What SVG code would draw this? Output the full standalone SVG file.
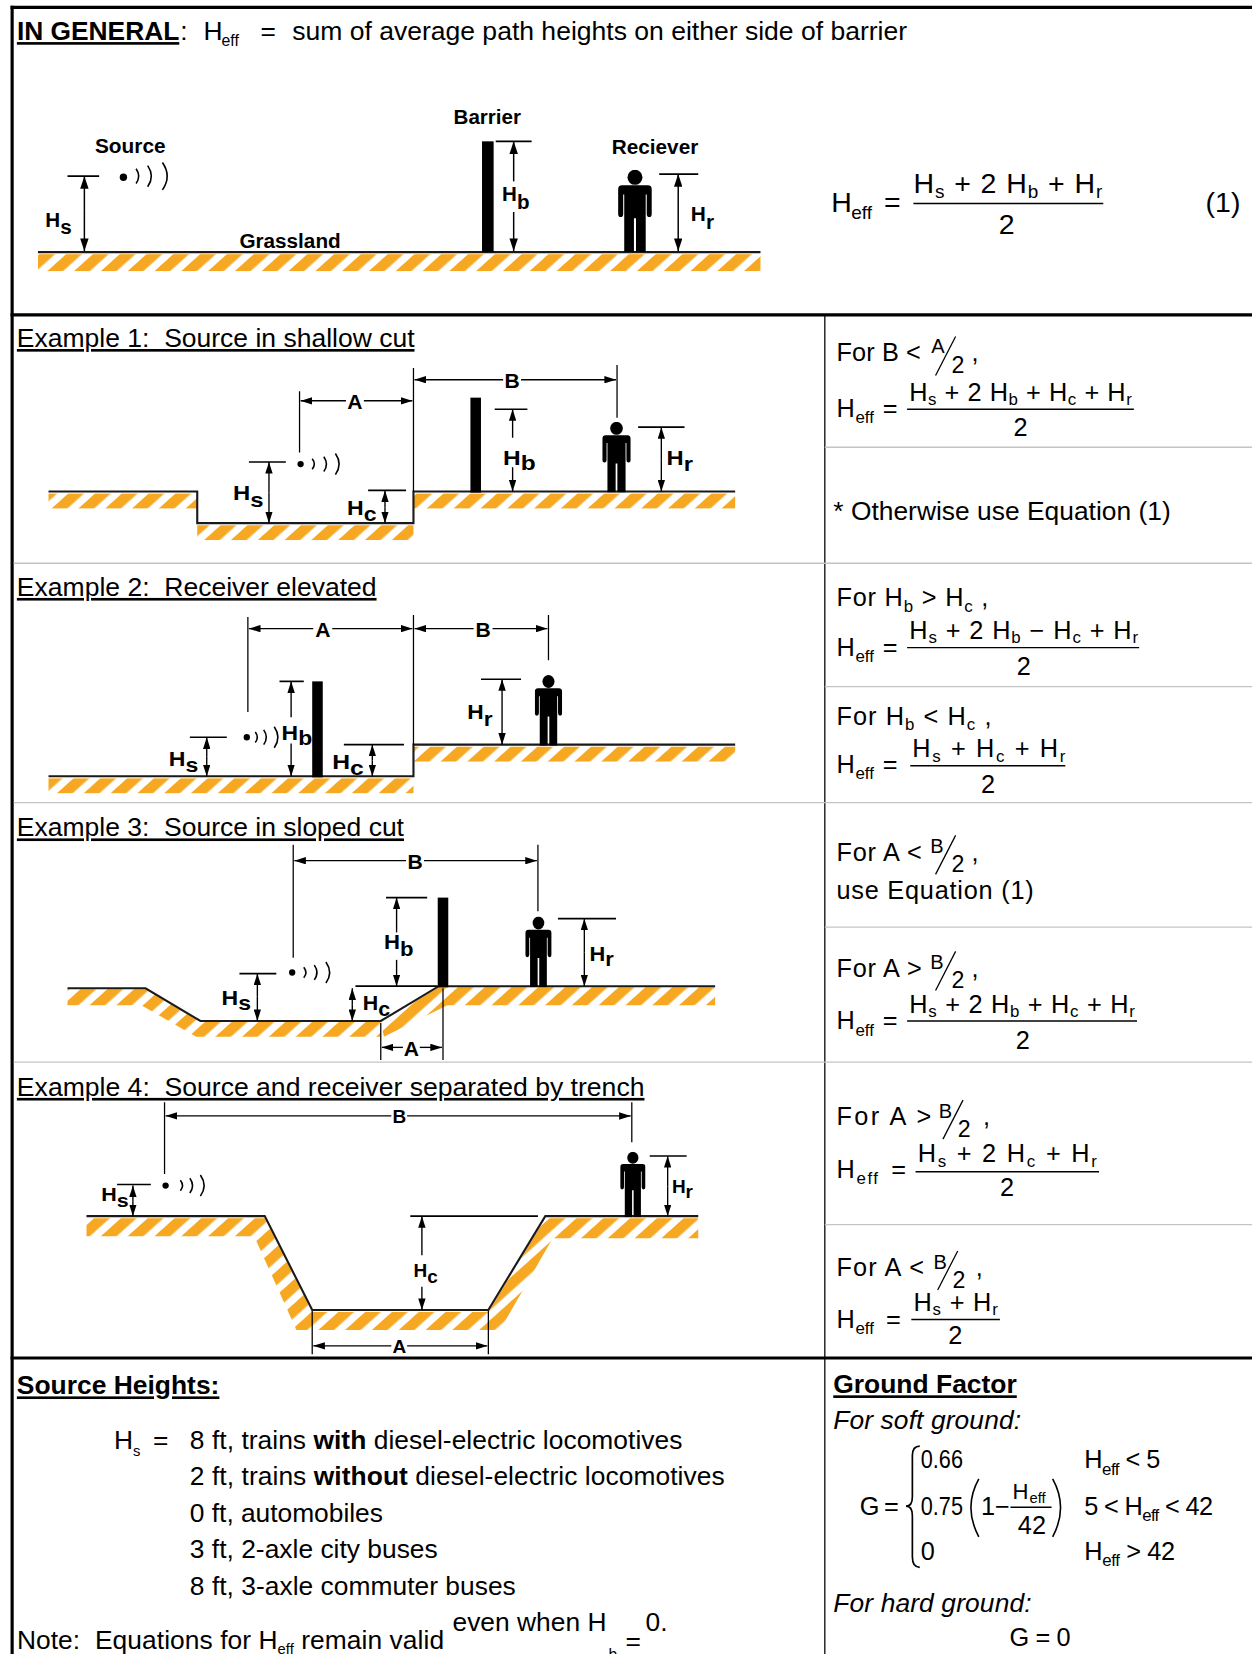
<svg xmlns="http://www.w3.org/2000/svg" width="1252" height="1654" viewBox="0 0 1252 1654">
<defs>
<style>
text{font-family:"Liberation Sans",Arial,Helvetica,sans-serif;fill:#000}
.b{font-weight:bold}
.u{text-decoration:underline}
.i{font-style:italic}
.t25{font-size:25px}
.eq{font-size:24px}
.s{font-size:16px}
.lab{font-weight:bold;font-size:20px}
.lab4{font-weight:bold;font-size:18px}
.gl{stroke:#1a1a1a;stroke-width:2;fill:none}
.hatch{fill:url(#hatch)}
.ext{stroke:#000;stroke-width:1.2;fill:none}
.a{stroke:#000;stroke-width:1.3;fill:none;marker-end:url(#ah)}
.aL{stroke:#000;stroke-width:1.4;fill:none;marker-end:url(#ahL)}
.tick{stroke:#000;stroke-width:1.6}
.thick{stroke:#000;stroke-width:3}
.thin{stroke:#000;stroke-width:1.2}
.gray{stroke:#c4c4c4;stroke-width:1.3}
.wave{stroke:#000;stroke-width:1.5;fill:none}
.bar{stroke:#000;stroke-width:1.4}
</style>
<pattern id="hatch" patternUnits="userSpaceOnUse" width="17" height="17" patternTransform="rotate(48)">
<rect width="17" height="17" fill="#fff"/>
<rect width="10" height="17" fill="#F7A823"/>
</pattern>
<marker id="ah" viewBox="0 0 11 7" refX="11" refY="3.5" markerWidth="11" markerHeight="7" markerUnits="userSpaceOnUse" orient="auto"><path d="M0,0 L11,3.5 L0,7 z" fill="#000"/></marker>
<marker id="ahL" viewBox="0 0 12 8" refX="12" refY="4" markerWidth="12" markerHeight="8" markerUnits="userSpaceOnUse" orient="auto"><path d="M0,0 L12,4 L0,8 z" fill="#000"/></marker>
<symbol id="person" viewBox="0 0 33 80" preserveAspectRatio="none">
<circle cx="16.5" cy="7.3" r="7.3"/>
<path d="M4,15 H29 Q33,15 33,19 V43 Q33,46 30.5,46 Q28,46 28,43 V24 H27 V80 H17.5 V47 H15.5 V80 H6 V24 H5 V43 Q5,46 2.5,46 Q0,46 0,43 V19 Q0,15 4,15 Z"/>
</symbol>
</defs>
<rect width="1252" height="1654" fill="#fff"/>
<g transform="scale(1.05476)">

<!-- frame and dividers -->
<g id="frame">
<line class="thick" x1="11.5" y1="5.5" x2="11.5" y2="1570"/>
<line class="thick" x1="10" y1="7" x2="1190" y2="7"/>
<line class="thick" x1="10" y1="298.5" x2="1190" y2="298.5"/>
<line class="thick" x1="10" y1="1287.5" x2="1190" y2="1287.5"/>
<line class="thin" x1="782" y1="298.5" x2="782" y2="1570"/>
<line class="gray" x1="13" y1="534" x2="1190" y2="534"/>
<line class="gray" x1="13" y1="761" x2="1190" y2="761"/>
<line class="gray" x1="13" y1="1007" x2="1190" y2="1007"/>
<line class="gray" x1="782" y1="424" x2="1190" y2="424"/>
<line class="gray" x1="782" y1="651" x2="1190" y2="651"/>
<line class="gray" x1="782" y1="879" x2="1190" y2="879"/>
<line class="gray" x1="782" y1="1161" x2="1190" y2="1161"/>
</g>

<!-- ============ GENERAL ============ -->
<g id="general-title">
<text class="b u t25" x="16" y="38" textLength="154" lengthAdjust="spacingAndGlyphs">IN GENERAL</text>
<text class="t25" x="171" y="38">:</text>
<text class="t25" x="193" y="38">H</text>
<text x="210" y="44" font-size="15">eff</text>
<text class="t25" x="247" y="38">=</text>
<text class="t25" x="277" y="38" textLength="583" lengthAdjust="spacingAndGlyphs">sum of average path heights on either side of barrier</text>
</g>

<g id="general-ground">
<rect class="hatch" x="36" y="241" width="685" height="16"/>
<path class="gl" d="M36,239 H721"/>
<text class="b" x="227" y="235" font-size="19" textLength="96" lengthAdjust="spacingAndGlyphs">Grassland</text>
</g>
<g id="general-source">
<text class="b" x="90" y="145" font-size="19" textLength="67" lengthAdjust="spacingAndGlyphs">Source</text>
<circle cx="117" cy="168" r="3.5"/>
<path class="wave" d="M129,160 Q134,167 129,174 M140,157 Q147,167 140,177 M154,154 Q163,167 154,180"/>
<line class="tick" x1="64" y1="167" x2="94" y2="167"/>
<path class="aL" d="M80,200 V167"/><path class="aL" d="M80,200 V238"/>
<text class="b" x="43" y="215" font-size="19" textLength="25" lengthAdjust="spacingAndGlyphs">H<tspan dy="7">s</tspan></text>
</g>
<g id="general-barrier">
<text class="b" x="430" y="118" font-size="19" textLength="64" lengthAdjust="spacingAndGlyphs">Barrier</text>
<rect x="457" y="134" width="11" height="105"/>
<line class="tick" x1="470" y1="134" x2="504" y2="134"/>
<path class="aL" d="M487,172 V134"/><path class="aL" d="M487,201 V238"/>
<text class="b" x="476" y="191" font-size="19" textLength="26" lengthAdjust="spacingAndGlyphs">H<tspan dy="7">b</tspan></text>
</g>
<g id="general-receiver">
<text class="b" x="580" y="146" font-size="19" textLength="82" lengthAdjust="spacingAndGlyphs">Reciever</text>
<use href="#person" x="586" y="161" width="32" height="78"/>
<line class="tick" x1="625" y1="165" x2="662" y2="165"/>
<path class="aL" d="M643,200 V165"/><path class="aL" d="M643,200 V238"/>
<text class="b" x="655" y="210" font-size="19" textLength="22" lengthAdjust="spacingAndGlyphs">H<tspan dy="7">r</tspan></text>
</g>
<g id="eq1">
<text x="788" y="201" font-size="27">H</text>
<text x="807" y="208" font-size="18">eff</text>
<text x="838" y="201" font-size="27">=</text>
<text x="866" y="183" font-size="27" textLength="179" lengthAdjust="spacing">H<tspan font-size="18" dy="5">s</tspan><tspan dy="-5"> + 2 H</tspan><tspan font-size="18" dy="5">b</tspan><tspan dy="-5"> + H</tspan><tspan font-size="18" dy="5">r</tspan></text>
<line class="bar" x1="866" y1="193" x2="1046" y2="193"/>
<text x="947" y="222" font-size="27">2</text>
<text x="1143" y="201" font-size="27">(1)</text>
</g>

<!-- ============ EXAMPLE 1 ============ -->
<g id="ex1-title"><text class="u t25" x="16" y="329" textLength="377" lengthAdjust="spacingAndGlyphs">Example 1:&#160; Source in shallow cut</text></g>
<g id="ex1-ground">
<rect class="hatch" x="46" y="468" width="141" height="14"/>
<rect class="hatch" x="187" y="498" width="205" height="14"/>
<rect class="hatch" x="392" y="468" width="305" height="14"/>
<path class="gl" d="M46,466 H187 V496 H392 V466 H697"/>
</g>
<g id="ex1-source">
<circle cx="285" cy="440" r="3"/>
<path class="wave" d="M296,435 Q300,440 296,445 M307,433 Q312,440 307,447 M318,430 Q325,440 318,450"/>
<line class="tick" x1="236" y1="438" x2="271" y2="438"/>
<path class="a" d="M255,467 V438"/><path class="a" d="M255,467 V496"/>
<text class="lab" x="221" y="474" textLength="29" lengthAdjust="spacingAndGlyphs">H<tspan dy="7">s</tspan></text>
<line class="tick" x1="349" y1="465" x2="385" y2="465"/>
<path class="a" d="M365,481 V465"/><path class="a" d="M365,481 V496"/>
<text class="lab" x="329" y="488" textLength="28" lengthAdjust="spacingAndGlyphs">H<tspan dy="6">c</tspan></text>
</g>
<g id="ex1-barrier">
<rect x="446" y="377" width="10" height="90"/>
<line class="tick" x1="469" y1="388" x2="500" y2="388"/>
<path class="a" d="M486,415 V388"/><path class="a" d="M486,443 V466"/>
<text class="lab" x="477" y="441" textLength="31" lengthAdjust="spacingAndGlyphs">H<tspan dy="5">b</tspan></text>
</g>
<g id="ex1-receiver">
<use href="#person" x="571" y="400" width="27" height="67"/>
<line class="tick" x1="605" y1="405" x2="649" y2="405"/>
<path class="a" d="M627,436 V405"/><path class="a" d="M627,436 V466"/>
<text class="lab" x="632" y="441" textLength="25" lengthAdjust="spacingAndGlyphs">H<tspan dy="6">r</tspan></text>
</g>
<g id="ex1-dims">
<path class="ext" d="M392,349 V466 M284,371 V429 M585,346 V396"/>
<path class="a" d="M328,380 H285"/><path class="a" d="M345,380 H391"/>
<text class="lab" x="336.5" y="388" text-anchor="middle" font-size="21">A</text>
<path class="a" d="M477,360 H393"/><path class="a" d="M494,360 H584"/>
<text class="lab" x="485.5" y="368" text-anchor="middle" font-size="21">B</text>
</g>
<g id="ex1-eq">
<text class="eq" x="793" y="342" textLength="80" lengthAdjust="spacing">For B &lt;</text>
<text x="883" y="335" font-size="19">A</text>
<line class="thin" x1="887" y1="356" x2="906" y2="319"/>
<text x="902" y="354" font-size="22">2</text>
<text class="eq" x="921" y="342">,</text>
<text class="eq" x="793" y="395">H</text>
<text class="s" x="811" y="401">eff</text>
<text class="eq" x="837" y="395">=</text>
<text class="eq" x="862" y="380" textLength="211" lengthAdjust="spacing">H<tspan class="s" dy="4">s</tspan><tspan dy="-4"> + 2 H</tspan><tspan class="s" dy="4">b</tspan><tspan dy="-4"> + H</tspan><tspan class="s" dy="4">c</tspan><tspan dy="-4"> + H</tspan><tspan class="s" dy="4">r</tspan></text>
<line class="bar" x1="860" y1="388" x2="1075" y2="388"/>
<text class="eq" x="961" y="413">2</text>
<text class="t25" x="790" y="493" textLength="320" lengthAdjust="spacing">* Otherwise use Equation (1)</text>
</g>

<!-- ============ EXAMPLE 2 ============ -->
<g id="ex2-title"><text class="u t25" x="16" y="565" textLength="341" lengthAdjust="spacingAndGlyphs">Example 2:&#160; Receiver elevated</text></g>
<g id="ex2-ground">
<rect class="hatch" x="46" y="738" width="346" height="14"/>
<rect class="hatch" x="392" y="708" width="305" height="14"/>
<path class="gl" d="M46,736 H392 V706 H697"/>
</g>
<g id="ex2-source">
<circle cx="234" cy="699" r="3"/>
<path class="wave" d="M242,694 Q246,699 242,704 M250,692 Q255,699 250,706 M260,689 Q267,699 260,709"/>
<line class="tick" x1="180" y1="699" x2="215" y2="699"/>
<path class="a" d="M196,717 V699"/><path class="a" d="M196,717 V736"/>
<text class="lab" x="160" y="726" textLength="28" lengthAdjust="spacingAndGlyphs">H<tspan dy="6">s</tspan></text>
</g>
<g id="ex2-barrier">
<rect x="296" y="646" width="10" height="91"/>
<line class="tick" x1="265" y1="646" x2="288" y2="646"/>
<path class="a" d="M276,680 V646"/><path class="a" d="M276,705 V736"/>
<text class="lab" x="267" y="702" textLength="29" lengthAdjust="spacingAndGlyphs">H<tspan dy="4">b</tspan></text>
<line class="tick" x1="326" y1="706" x2="383" y2="706"/>
<path class="a" d="M353,721 V706"/><path class="a" d="M353,721 V736"/>
<text class="lab" x="315" y="729" textLength="30" lengthAdjust="spacingAndGlyphs">H<tspan dy="6">c</tspan></text>
</g>
<g id="ex2-receiver">
<use href="#person" x="507" y="640" width="26" height="67"/>
<line class="tick" x1="456" y1="644" x2="494" y2="644"/>
<path class="a" d="M476,675 V644"/><path class="a" d="M476,675 V706"/>
<text class="lab" x="443" y="682" textLength="24" lengthAdjust="spacingAndGlyphs">H<tspan dy="6">r</tspan></text>
</g>
<g id="ex2-dims">
<path class="ext" d="M235,585 V675 M392,583 V706 M520,583 V626"/>
<path class="a" d="M297,596 H236"/><path class="a" d="M315,596 H391"/>
<text class="lab" x="306" y="604" text-anchor="middle" font-size="21">A</text>
<path class="a" d="M449,596 H393"/><path class="a" d="M467,596 H519"/>
<text class="lab" x="458" y="604" text-anchor="middle" font-size="21">B</text>
</g>
<g id="ex2-eq">
<text class="eq" x="793" y="575" textLength="144" lengthAdjust="spacing">For H<tspan class="s" dy="5">b</tspan><tspan dy="-5"> &gt; H</tspan><tspan class="s" dy="5">c</tspan><tspan dy="-5"> ,</tspan></text>
<text class="eq" x="793" y="622">H</text>
<text class="s" x="811" y="628">eff</text>
<text class="eq" x="837" y="622">=</text>
<text class="eq" x="862" y="606" textLength="217" lengthAdjust="spacing">H<tspan class="s" dy="4">s</tspan><tspan dy="-4"> + 2 H</tspan><tspan class="s" dy="4">b</tspan><tspan dy="-4"> − H</tspan><tspan class="s" dy="4">c</tspan><tspan dy="-4"> + H</tspan><tspan class="s" dy="4">r</tspan></text>
<line class="bar" x1="860" y1="614" x2="1080" y2="614"/>
<text class="eq" x="964" y="640">2</text>
<text class="eq" x="793" y="687" textLength="147" lengthAdjust="spacing">For H<tspan class="s" dy="5">b</tspan><tspan dy="-5"> &lt; H</tspan><tspan class="s" dy="5">c</tspan><tspan dy="-5"> ,</tspan></text>
<text class="eq" x="793" y="733">H</text>
<text class="s" x="811" y="739">eff</text>
<text class="eq" x="837" y="733">=</text>
<text class="eq" x="865" y="718" textLength="145" lengthAdjust="spacing">H<tspan class="s" dy="4">s</tspan><tspan dy="-4"> + H</tspan><tspan class="s" dy="4">c</tspan><tspan dy="-4"> + H</tspan><tspan class="s" dy="4">r</tspan></text>
<line class="bar" x1="863" y1="726" x2="1010" y2="726"/>
<text class="eq" x="930" y="752">2</text>
</g>

<!-- ============ EXAMPLE 3 ============ -->
<g id="ex3-title"><text class="u t25" x="16" y="793" textLength="367" lengthAdjust="spacingAndGlyphs">Example 3:&#160; Source in sloped cut</text></g>
<g id="ex3-ground">
<polygon class="hatch" points="64,938 138,938 190,969 361,969 361,983 186,983 134,953 64,953"/>
<polygon class="hatch" points="361,969 416,936 678,936 678,953 424,953 364,983"/>
<path class="gl" d="M64,937 H138 L190,968 H361 L416,935 H678"/>
</g>
<g id="ex3-source">
<circle cx="277" cy="922" r="3"/>
<path class="wave" d="M288,917 Q292,922 288,927 M298,915 Q303,922 298,929 M309,912 Q316,922 309,932"/>
<line class="tick" x1="227" y1="923" x2="262" y2="923"/>
<path class="a" d="M244,945 V923"/><path class="a" d="M244,945 V968"/>
<text class="lab" x="210" y="953" textLength="28" lengthAdjust="spacingAndGlyphs">H<tspan dy="5">s</tspan></text>
<line class="tick" x1="337" y1="935" x2="415" y2="935"/>
<path class="a" d="M334,952 V937"/><path class="a" d="M334,952 V968"/>
<text class="lab" x="344" y="958" textLength="26" lengthAdjust="spacingAndGlyphs">H<tspan dy="5">c</tspan></text>
</g>
<g id="ex3-barrier">
<rect x="415" y="851" width="10" height="85"/>
<line class="tick" x1="366" y1="851" x2="405" y2="851"/>
<path class="a" d="M376,884 V851"/><path class="a" d="M376,910 V935"/>
<text class="lab" x="364" y="900" textLength="28" lengthAdjust="spacingAndGlyphs">H<tspan dy="6">b</tspan></text>
</g>
<g id="ex3-receiver">
<use href="#person" x="498" y="869" width="25" height="67"/>
<line class="tick" x1="529" y1="871" x2="584" y2="871"/>
<path class="a" d="M554,903 V871"/><path class="a" d="M554,903 V935"/>
<text class="lab" x="559" y="911" textLength="23" lengthAdjust="spacingAndGlyphs">H<tspan dy="5">r</tspan></text>
</g>
<g id="ex3-dims">
<path class="ext" d="M278,801 V908 M510,801 V864 M361,970 V1005 M420,937 V1005"/>
<path class="a" d="M385,816 H279"/><path class="a" d="M402,816 H509"/>
<text class="lab" x="393.5" y="824" text-anchor="middle" font-size="21">B</text>
<path class="a" d="M382,993 H362"/><path class="a" d="M398,993 H419"/>
<text class="lab" x="390" y="1001" text-anchor="middle" font-size="21">A</text>
</g>
<g id="ex3-eq">
<text class="eq" x="793" y="816" textLength="81" lengthAdjust="spacing">For A &lt;</text>
<text x="882" y="809" font-size="19">B</text>
<line class="thin" x1="887" y1="829" x2="906" y2="792"/>
<text x="902" y="827" font-size="22">2</text>
<text class="eq" x="921" y="816">,</text>
<text class="eq" x="793" y="852" textLength="187" lengthAdjust="spacing">use Equation (1)</text>
<text class="eq" x="793" y="926" textLength="81" lengthAdjust="spacing">For A &gt;</text>
<text x="882" y="919" font-size="19">B</text>
<line class="thin" x1="887" y1="939" x2="906" y2="902"/>
<text x="902" y="937" font-size="22">2</text>
<text class="eq" x="921" y="926">,</text>
<text class="eq" x="793" y="976">H</text>
<text class="s" x="811" y="982">eff</text>
<text class="eq" x="837" y="976">=</text>
<text class="eq" x="862" y="960" textLength="214" lengthAdjust="spacing">H<tspan class="s" dy="4">s</tspan><tspan dy="-4"> + 2 H</tspan><tspan class="s" dy="4">b</tspan><tspan dy="-4"> + H</tspan><tspan class="s" dy="4">c</tspan><tspan dy="-4"> + H</tspan><tspan class="s" dy="4">r</tspan></text>
<line class="bar" x1="860" y1="968" x2="1078" y2="968"/>
<text class="eq" x="963" y="995">2</text>
</g>

<!-- ============ EXAMPLE 4 ============ -->
<g id="ex4-title"><text class="u t25" x="16" y="1039" textLength="595" lengthAdjust="spacingAndGlyphs">Example 4:&#160; Source and receiver separated by trench</text></g>
<g id="ex4-ground">
<polygon class="hatch" points="82,1155 251,1155 296,1244 463,1244 463,1261 281,1261 241,1172 82,1172"/>
<polygon class="hatch" points="463,1244 517,1155 662,1155 662,1174 524,1174 474,1261 463,1261"/>
<path class="gl" d="M82,1153 H251 L296,1242 H463 L517,1153 H662"/>
</g>
<g id="ex4-source">
<circle cx="157" cy="1124" r="3"/>
<path class="wave" d="M171,1119 Q175,1124 171,1129 M180,1117 Q185,1124 180,1131 M190,1114 Q197,1124 190,1134"/>
<line class="tick" x1="111" y1="1123" x2="143" y2="1123"/>
<path class="a" d="M126,1139 V1124"/><path class="a" d="M126,1139 V1153"/>
<text class="lab4" x="96" y="1139" textLength="26" lengthAdjust="spacingAndGlyphs">H<tspan dy="5">s</tspan></text>
</g>
<g id="ex4-trench">
<line class="tick" x1="389" y1="1153" x2="510" y2="1153"/>
<path class="a" d="M400,1190 V1153"/><path class="a" d="M400,1220 V1242"/>
<text class="lab4" x="392" y="1211" textLength="23" lengthAdjust="spacingAndGlyphs">H<tspan dy="5">c</tspan></text>
</g>
<g id="ex4-receiver">
<use href="#person" x="588" y="1092" width="24" height="62"/>
<line class="tick" x1="616" y1="1096" x2="651" y2="1096"/>
<path class="a" d="M633,1125 V1096"/><path class="a" d="M633,1125 V1153"/>
<text class="lab4" x="637" y="1131" textLength="20" lengthAdjust="spacingAndGlyphs">H<tspan dy="5">r</tspan></text>
</g>
<g id="ex4-dims">
<path class="ext" d="M156,1045 V1113 M599,1045 V1083 M296,1243 V1284 M463,1243 V1284"/>
<path class="a" d="M371,1058 H157"/><path class="a" d="M386,1058 H598"/>
<text class="lab4" x="378.5" y="1065" text-anchor="middle">B</text>
<path class="a" d="M371,1276 H297"/><path class="a" d="M386,1276 H462"/>
<text class="lab4" x="378.5" y="1283" text-anchor="middle">A</text>
</g>
<g id="ex4-eq">
<text class="eq" x="793" y="1067" textLength="90" lengthAdjust="spacing">For A &gt;</text>
<text x="890" y="1060" font-size="19">B</text>
<line class="thin" x1="894" y1="1080" x2="913" y2="1043"/>
<text x="908" y="1078" font-size="22">2</text>
<text class="eq" x="932" y="1067">,</text>
<text class="eq" x="793" y="1117">H</text>
<text class="s" x="812" y="1123" letter-spacing="1.5">eff</text>
<text class="eq" x="845" y="1117">=</text>
<text class="eq" x="870" y="1102" textLength="170" lengthAdjust="spacing">H<tspan class="s" dy="4">s</tspan><tspan dy="-4"> + 2 H</tspan><tspan class="s" dy="4">c</tspan><tspan dy="-4"> + H</tspan><tspan class="s" dy="4">r</tspan></text>
<line class="bar" x1="868" y1="1111" x2="1042" y2="1111"/>
<text class="eq" x="948" y="1134">2</text>
<text class="eq" x="793" y="1210" textLength="83" lengthAdjust="spacing">For A &lt;</text>
<text x="885" y="1203" font-size="19">B</text>
<line class="thin" x1="889" y1="1223" x2="908" y2="1186"/>
<text x="903" y="1221" font-size="22">2</text>
<text class="eq" x="925" y="1210">,</text>
<text class="eq" x="793" y="1259">H</text>
<text class="s" x="811" y="1265">eff</text>
<text class="eq" x="840" y="1259">=</text>
<text class="eq" x="866" y="1243" textLength="80" lengthAdjust="spacing">H<tspan class="s" dy="4">s</tspan><tspan dy="-4"> + H</tspan><tspan class="s" dy="4">r</tspan></text>
<line class="bar" x1="864" y1="1251" x2="948" y2="1251"/>
<text class="eq" x="899" y="1274">2</text>
</g>

<!-- ============ SOURCE HEIGHTS ============ -->
<g id="source-heights">
<text class="b u t25" x="16" y="1322" textLength="192" lengthAdjust="spacingAndGlyphs">Source Heights:</text>
<text class="t25" x="108" y="1374">H</text>
<text x="126" y="1380" font-size="14">s</text>
<text class="t25" x="145" y="1374">=</text>
<text class="t25" x="180" y="1374" textLength="467" lengthAdjust="spacing">8 ft, trains <tspan class="b">with</tspan> diesel-electric locomotives</text>
<text class="t25" x="180" y="1408" textLength="507" lengthAdjust="spacing">2 ft, trains <tspan class="b">without</tspan> diesel-electric locomotives</text>
<text class="t25" x="180" y="1443" textLength="183" lengthAdjust="spacing">0 ft, automobiles</text>
<text class="t25" x="180" y="1477" textLength="235" lengthAdjust="spacing">3 ft, 2-axle city buses</text>
<text class="t25" x="180" y="1512" textLength="309" lengthAdjust="spacing">8 ft, 3-axle commuter buses</text>
<text class="t25" x="16" y="1563" textLength="405" lengthAdjust="spacing">Note:&#160; Equations for H<tspan font-size="14" dy="5">eff</tspan><tspan dy="-5"> remain valid</tspan></text>
<text class="t25" x="429" y="1546" textLength="146" lengthAdjust="spacing">even when H</text>
<text x="577" y="1574" font-size="15">b</text>
<text class="t25" x="593" y="1564">=</text>
<text class="t25" x="612" y="1546">0.</text>
</g>

<!-- ============ GROUND FACTOR ============ -->
<g id="ground-factor">
<text class="b u t25" x="790" y="1321" textLength="174" lengthAdjust="spacingAndGlyphs">Ground Factor</text>
<text class="i t25" x="790" y="1355" textLength="178" lengthAdjust="spacing">For soft ground:</text>
<text class="eq" x="815" y="1436">G</text>
<text class="eq" x="838" y="1436">=</text>
<path d="M872,1371 Q865,1371 865,1380 L865,1419 Q865,1428 859,1428 Q865,1428 865,1437 L865,1476 Q865,1486 872,1486" fill="none" stroke="#000" stroke-width="1.6"/>
<text class="eq" x="873" y="1392" textLength="40" lengthAdjust="spacingAndGlyphs">0.66</text>
<text class="eq" x="1028" y="1392" textLength="72" lengthAdjust="spacing">H<tspan class="s" dy="6">eff</tspan><tspan dy="-6"> &lt; 5</tspan></text>
<text class="eq" x="873" y="1436" textLength="40" lengthAdjust="spacingAndGlyphs">0.75</text>
<path d="M928,1402 Q913,1429 928,1457" fill="none" stroke="#000" stroke-width="1.5"/>
<text class="eq" x="930" y="1436">1−</text>
<text x="960" y="1421" font-size="21">H</text>
<text x="976" y="1425" font-size="14">eff</text>
<line class="bar" x1="958" y1="1429" x2="997" y2="1429"/>
<text class="eq" x="965" y="1454">42</text>
<path d="M998,1402 Q1013,1429 998,1457" fill="none" stroke="#000" stroke-width="1.5"/>
<text class="eq" x="1028" y="1436" textLength="122" lengthAdjust="spacing">5 &lt; H<tspan class="s" dy="6">eff</tspan><tspan dy="-6"> &lt; 42</tspan></text>
<text class="eq" x="873" y="1479">0</text>
<text class="eq" x="1028" y="1479" textLength="86" lengthAdjust="spacing">H<tspan class="s" dy="6">eff</tspan><tspan dy="-6"> &gt; 42</tspan></text>
<text class="i t25" x="790" y="1528" textLength="188" lengthAdjust="spacing">For hard ground:</text>
<text class="eq" x="957" y="1561" textLength="58" lengthAdjust="spacing">G = 0</text>
</g>

</g>
</svg>
